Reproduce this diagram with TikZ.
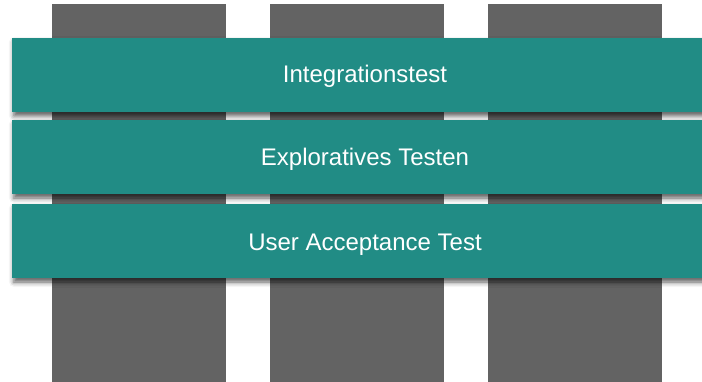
\documentclass[tikz,border=0pt]{standalone}
\usepackage{fontspec}
\setmainfont{Liberation Sans}
\usetikzlibrary{shadows.blur}
\definecolor{teal}{RGB}{33,140,133}
\definecolor{colgrey}{RGB}{99,99,99}
\begin{document}
\begin{tikzpicture}[x=1pt,y=-1pt,
  column/.style={fill=colgrey,draw=none},
  bar/.style={fill=teal,draw=none,blur shadow={shadow xshift=2pt,shadow yshift=-4pt,shadow blur radius=5pt,shadow opacity=65}},
  label/.style={text=white,font=\fontsize{24}{28}\selectfont,anchor=base,inner sep=0pt}]
\useasboundingbox (0,0) rectangle (702,382);
\path[column] (52,4) rectangle (226,382);
\path[column] (270,4) rectangle (444,382);
\path[column] (488,4) rectangle (662,382);
\path[bar] (12,38) rectangle (720,112);
\path[bar] (12,120) rectangle (720,194);
\path[bar] (12,204) rectangle (720,278);
\node[label] (t1) at (365,83) {Integrationstest};
\node[label] (t2) at (365,166) {Exploratives Testen};
\node[label] (t3) at (365,251) {User Acceptance Test};
\end{tikzpicture}
\end{document}
